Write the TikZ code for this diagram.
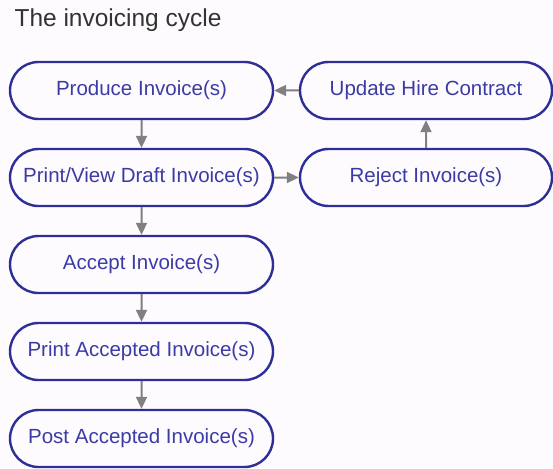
\documentclass[tikz,border=0pt]{standalone}
\usepackage{fontspec}
\setmainfont{Liberation Sans}
\usetikzlibrary{positioning,shapes.misc,arrows.meta}
\definecolor{stageblue}{HTML}{2E2E98}
\definecolor{stagetext}{HTML}{3B3BA6}
\definecolor{flowgray}{HTML}{808080}
\definecolor{paper}{HTML}{FDFBFD}
\tikzset{>={Triangle[length=12pt,width=11pt]}}
\tikzset{
  stage/.style={rounded rectangle,draw=stageblue,line width=2.4pt,
    text=stagetext,font=\fontsize{20.5}{23}\selectfont,
    minimum height=57pt,inner sep=0pt},
  leftstage/.style={stage,minimum width=263pt},
  rightstage/.style={stage,minimum width=252pt},
  flow/.style={->,draw=flowgray,fill=flowgray,line width=2pt}
}

\begin{document}
\begin{tikzpicture}[x=1pt,y=-1pt]
\fill[paper] (0,0) rectangle (553,468);
\useasboundingbox (0,0) rectangle (553,468);
\node[anchor=base west,text=black!80,font=\fontsize{24.5}{27}\selectfont] (title) at (11,27) {The invoicing cycle};
% left column
\node[leftstage] (produce) at (141.5,90.5) {Produce Invoice(s)};
\node[leftstage,below=27.6pt of produce] (draft) {Print/View Draft Invoice(s)};
\node[leftstage,below=27.6pt of draft] (accept) {Accept Invoice(s)};
\node[leftstage,below=27.6pt of accept] (printacc) {Print Accepted Invoice(s)};
\node[leftstage,below=27.6pt of printacc] (post) {Post Accepted Invoice(s)};
% right column
\node[rightstage] (update) at (426,90.5) {Update Hire Contract};
\node[rightstage,below=27.6pt of update] (reject) {Reject Invoice(s)};
% connectors
\draw[flow] (produce) -- (draft);
\draw[flow] (draft) -- (accept);
\draw[flow] (accept) -- (printacc);
\draw[flow] (printacc) -- (post);
\draw[flow] (draft) -- (reject);
\draw[flow] (reject) -- (update);
\draw[flow] (update) -- (produce);
\end{tikzpicture}
\end{document}
